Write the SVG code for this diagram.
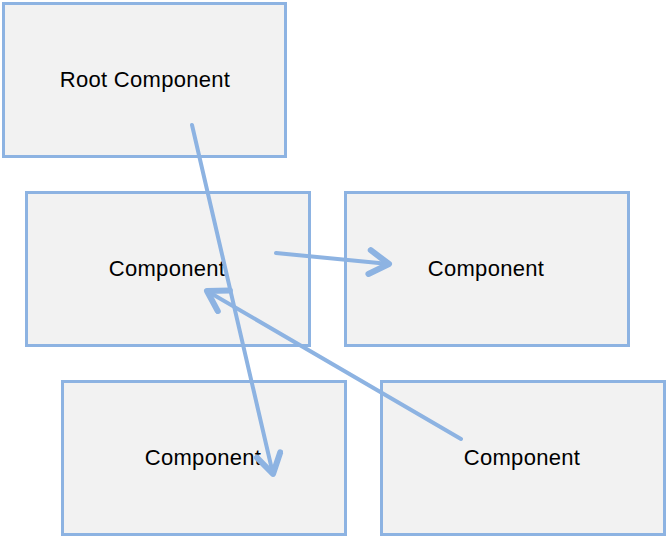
<svg xmlns="http://www.w3.org/2000/svg" width="667" height="538" viewBox="0 0 667 538">
<style>
.box{fill:#f2f2f2;stroke:#8db3e2;stroke-width:3}
.lbl{font-family:"Liberation Sans",Arial,sans-serif;font-size:22px;letter-spacing:0.3px;fill:#000;text-anchor:middle}
.conn{stroke:#8db3e2;stroke-width:4;fill:none;stroke-linecap:round}
</style>
<defs>
<marker id="ah" markerUnits="userSpaceOnUse" markerWidth="30" markerHeight="30" viewBox="-16 -10 20 20" refX="0" refY="0" orient="auto">
<path d="M-13,-8 L0,0 L-13,8" fill="none" stroke="#8db3e2" stroke-width="4" stroke-linecap="round" stroke-linejoin="round"/>
</marker>
</defs>
<g id="root"><rect class="box" x="3.5" y="3.5" width="282" height="153"/><text class="lbl" x="145" y="87">Root Component</text></g>
<g id="c1"><rect class="box" x="26.5" y="192.5" width="283" height="153"/><text class="lbl" x="167" y="276">Component</text></g>
<g id="c2"><rect class="box" x="345.5" y="192.5" width="283" height="153"/><text class="lbl" x="486" y="276">Component</text></g>
<g id="c3"><rect class="box" x="62.5" y="381.5" width="283" height="153"/><text class="lbl" x="203" y="465">Component</text></g>
<g id="c4"><rect class="box" x="381.5" y="381.5" width="283" height="153"/><text class="lbl" x="522" y="465">Component</text></g>
<g id="connectors">
<line class="conn" x1="192" y1="125" x2="273" y2="474" marker-end="url(#ah)"/>
<line class="conn" x1="276" y1="253" x2="389" y2="264" marker-end="url(#ah)"/>
<line class="conn" x1="461" y1="439" x2="207" y2="291" marker-end="url(#ah)"/>
</g>
</svg>
